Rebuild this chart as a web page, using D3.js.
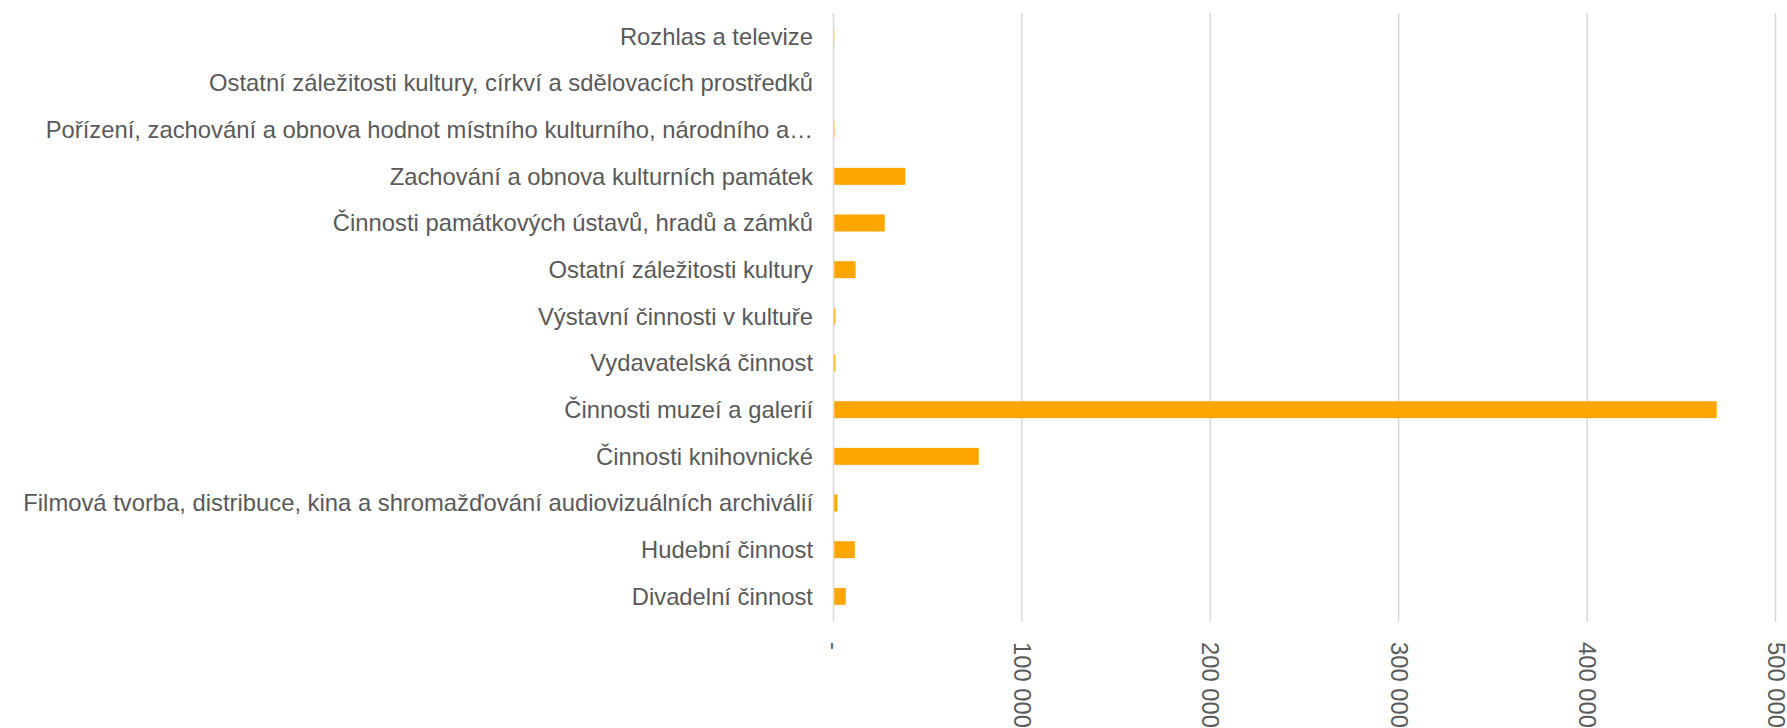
<!DOCTYPE html>
<html>
<head>
<meta charset="utf-8">
<script src="https://cdn.jsdelivr.net/npm/d3@7"></script>
<style>
  body { margin: 0; background: #fff; }
  .label { font-family: "Liberation Sans", Arial, sans-serif; font-size: 23.8px; fill: #595959; }
</style>
</head>
<body>
<div id="chart"></div>
<script>
// categories top to bottom, as in the picture
var categories = [
    "Rozhlas a televize",
    "Ostatní záležitosti kultury, církví a sdělovacích prostředků",
    "Pořízení, zachování a obnova hodnot místního kulturního, národního a…",
    "Zachování a obnova kulturních památek",
    "Činnosti památkových ústavů, hradů a zámků",
    "Ostatní záležitosti kultury",
    "Výstavní činnosti v kultuře",
    "Vydavatelská činnost",
    "Činnosti muzeí a galerií",
    "Činnosti knihovnické",
    "Filmová tvorba, distribuce, kina a shromažďování audiovizuálních archiválií",
    "Hudební činnost",
    "Divadelní činnost"
];

var values = [150, 0, 200, 37700, 26800, 11300, 600, 600, 468400, 76700, 1700, 10900, 6100];

var xTicks = [0, 100000, 200000, 300000, 400000, 500000];

var width = 1787, height = 728;
var plotLeft = 833.5, plotRight = 1775.5, plotTop = 13, plotBottom = 619.7, gridBottom = 622;

var data = categories.map(function (c, i) {
    return {name: c, value: values[i]};
});

var svg = d3.select("#chart")
    .append("svg")
    .attr("width", width)
    .attr("height", height);

var x = d3.scaleLinear()
    .domain([0, 500000])
    .range([plotLeft, plotRight]);

var y = d3.scaleBand()
    .domain(categories)
    .range([plotTop, plotBottom])
    .paddingInner(0.636)
    .paddingOuter(0.318);

// vertical gridlines
svg.append("g")
    .selectAll("line")
    .data(xTicks)
    .enter()
    .append("line")
    .attr("x1", function (d) { return x(d); })
    .attr("x2", function (d) { return x(d); })
    .attr("y1", plotTop)
    .attr("y2", gridBottom)
    .style("stroke", "#d9d9d9")
    .style("stroke-width", 1.5);

// bars
svg.append("g")
    .selectAll("rect")
    .data(data)
    .enter()
    .append("rect")
    .attr("x", x(0) + 0.75)
    .attr("y", function (d) { return y(d.name); })
    .attr("width", function (d) { return Math.max(0, x(d.value) - x(0)); })
    .attr("height", y.bandwidth())
    .style("fill", "#ffa500");

// category labels
svg.append("g")
    .selectAll("text")
    .data(categories)
    .enter()
    .append("text")
    .attr("class", "label")
    .attr("x", 813)
    .attr("y", function (d) { return y(d) + y.bandwidth() / 2; })
    .attr("dy", "0.35em")
    .attr("text-anchor", "end")
    .text(function (d) { return d; });

// x axis, labels rotated
var fmt = function (d) {
    if (d === 0) return "-";
    return d3.format(",")(d).replace(/,/g, " ");
};

var xAxis = svg.append("g")
    .attr("transform", "translate(0," + 642 + ")")
    .call(d3.axisBottom(x).tickValues(xTicks).tickSize(0).tickFormat(fmt));

xAxis.select(".domain").remove();
xAxis.selectAll("text")
    .attr("class", "label")
    .attr("y", 0)
    .attr("x", 0)
    .attr("dy", "0.35em")
    .attr("transform", "rotate(90)")
    .style("text-anchor", "start");
</script>
</body>
</html>
